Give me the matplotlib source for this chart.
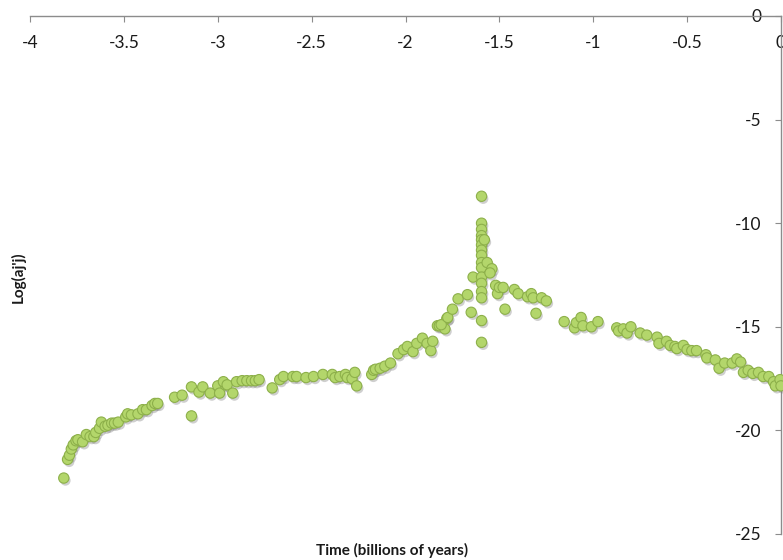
import numpy as np
import matplotlib
matplotlib.use('Agg')
import matplotlib.pyplot as plt
import matplotlib.patheffects as pe

plt.rcParams['font.family'] = ['Lato', 'DejaVu Sans']

# time in billions of years (negative = past) and log(aj'j)
time = [
    -3.82, -3.80, -3.79, -3.78, -3.77, -3.755, -3.745, -3.72, -3.70, -3.68,
    -3.66, -3.65, -3.63, -3.62, -3.60, -3.585, -3.565, -3.55, -3.53, -3.49,
    -3.48, -3.46, -3.425, -3.40, -3.38, -3.35, -3.335, -3.32,
    -3.23, -3.19, -3.14, -3.14, -3.10, -3.08, -3.04, -3.00, -2.99, -2.96,
    -2.97, -2.95, -2.92, -2.90, -2.87, -2.845, -2.82, -2.80, -2.78,
    -2.71, -2.67, -2.65, -2.60, -2.58, -2.53, -2.49, -2.44, -2.39, -2.375,
    -2.35, -2.32, -2.31, -2.285, -2.27, -2.26,
    -2.18, -2.17, -2.16, -2.135, -2.11, -2.08, -2.04, -2.01, -1.99, -1.96,
    -1.94, -1.91, -1.885, -1.865, -1.855, -1.83, -1.82, -1.79, -1.78,
    -1.81, -1.775, -1.75, -1.72, -1.67, -1.65, -1.64,
    -1.595, -1.595, -1.595, -1.595, -1.595, -1.595, -1.595, -1.595, -1.595,
    -1.595, -1.595, -1.595, -1.595, -1.595, -1.595, -1.595,
    -1.58, -1.565, -1.54, -1.55, -1.52, -1.51, -1.50, -1.48, -1.47, -1.42,
    -1.40, -1.35, -1.33, -1.32, -1.305, -1.275, -1.25,
    -1.155, -1.10, -1.09, -1.065, -1.055, -1.01, -0.975,
    -0.875, -0.865, -0.84, -0.82, -0.80, -0.75, -0.715, -0.66, -0.65, -0.61,
    -0.59, -0.565, -0.555, -0.52, -0.50, -0.475, -0.45, -0.40, -0.395, -0.35,
    -0.33, -0.30, -0.26, -0.235, -0.215, -0.20, -0.175, -0.15, -0.12, -0.095,
    -0.065, -0.04, -0.03, -0.005, 0.0,
]
log_ajj = [
    -22.3, -21.4, -21.2, -20.9, -20.7, -20.5, -20.45, -20.55, -20.2, -20.3,
    -20.3, -20.1, -19.9, -19.6, -19.8, -19.75, -19.65, -19.65, -19.6, -19.35,
    -19.2, -19.25, -19.2, -19.0, -19.0, -18.8, -18.7, -18.7,
    -18.4, -18.3, -19.3, -17.9, -18.15, -17.9, -18.2, -17.85, -18.2, -17.8,
    -17.65, -17.8, -18.2, -17.65, -17.6, -17.6, -17.6, -17.6, -17.55,
    -17.95, -17.55, -17.4, -17.4, -17.4, -17.45, -17.4, -17.3, -17.3, -17.45,
    -17.4, -17.3, -17.45, -17.5, -17.2, -17.85,
    -17.3, -17.1, -17.05, -17.0, -16.9, -16.75, -16.3, -16.1, -15.95, -16.2,
    -15.8, -15.55, -15.8, -16.15, -15.7, -14.95, -14.95, -15.1, -14.6,
    -14.9, -14.55, -14.15, -13.65, -13.45, -14.3, -12.6,
    -8.7, -10.0, -10.3, -10.6, -10.8, -11.05, -11.3, -11.55, -11.9,
    -12.15, -12.6, -12.9, -13.3, -13.6, -14.7, -15.75,
    -10.8, -11.9, -12.2, -12.4, -13.0, -13.4, -13.1, -13.1, -14.15, -13.2,
    -13.4, -13.55, -13.4, -13.6, -14.35, -13.6, -13.75,
    -14.75, -15.05, -14.8, -14.55, -14.95, -15.0, -14.75,
    -15.05, -15.2, -15.1, -15.3, -15.0, -15.3, -15.4, -15.5, -15.8, -15.7,
    -15.9, -15.95, -16.05, -15.9, -16.1, -16.15, -16.15, -16.35, -16.5, -16.6,
    -17.0, -16.75, -16.75, -16.55, -16.7, -17.2, -17.1, -17.25, -17.2, -17.4,
    -17.4, -17.65, -17.85, -17.55, -17.85,
]

x_ticks = [-4, -3.5, -3, -2.5, -2, -1.5, -1, -0.5, 0]
x_tick_labels = ['-4', '-3.5', '-3', '-2.5', '-2', '-1.5', '-1', '-0.5', '0']
y_ticks = [0, -5, -10, -15, -20, -25]
y_tick_labels = ['0', '-5', '-10', '-15', '-20', '-25']

fig = plt.figure(figsize=(7.83, 5.6), dpi=100)
ax = fig.add_axes([30 / 783, 1 - 534 / 560, 751 / 783, 518 / 560])

ax.scatter(time, log_ajj, s=55, facecolor='#B3D66B', edgecolor='#8DB04A',
           linewidth=0.8, zorder=3, clip_on=False,
           path_effects=[pe.SimplePatchShadow(offset=(1.2, -1.8), alpha=0.35,
                                              shadow_rgbFace='#777777'),
                         pe.Normal()])

ax.set_xlim(-4, 0)
ax.set_ylim(-25, 0)

# axes cross at the origin: x axis runs along the top, y axis along the right
ax.spines['bottom'].set_position(('data', 0))
ax.spines['left'].set_position(('data', 0))
ax.spines['top'].set_visible(False)
ax.spines['right'].set_visible(False)
for side in ['bottom', 'left']:
    ax.spines[side].set_color('#8c8c8c')
    ax.spines[side].set_linewidth(1.0)

ax.set_xticks(x_ticks)
ax.set_xticklabels(x_tick_labels)
ax.set_yticks(y_ticks)
ax.set_yticklabels(y_tick_labels)
ax.tick_params(axis='x', direction='out', length=4, color='#8c8c8c', pad=10,
               labelsize=12.5, labelcolor='#1a1a1a')
ax.tick_params(axis='y', direction='out', length=4, color='#8c8c8c', pad=10,
               labelsize=12.5, labelcolor='#1a1a1a')
for lab in ax.get_xticklabels() + ax.get_yticklabels():
    lab.set_clip_on(False)

fig.text(392 / 783, 1 - 550 / 560, 'Time (billions of years)', ha='center',
         va='center', fontsize=11, fontweight='bold', color='#1a1a1a')
fig.text(18 / 783, 1 - 277 / 560, "Log(aj'j)", ha='center', va='center',
         rotation=90, fontsize=11, fontweight='bold', color='#1a1a1a')

fig.savefig('out.png', dpi=100, facecolor='white')
